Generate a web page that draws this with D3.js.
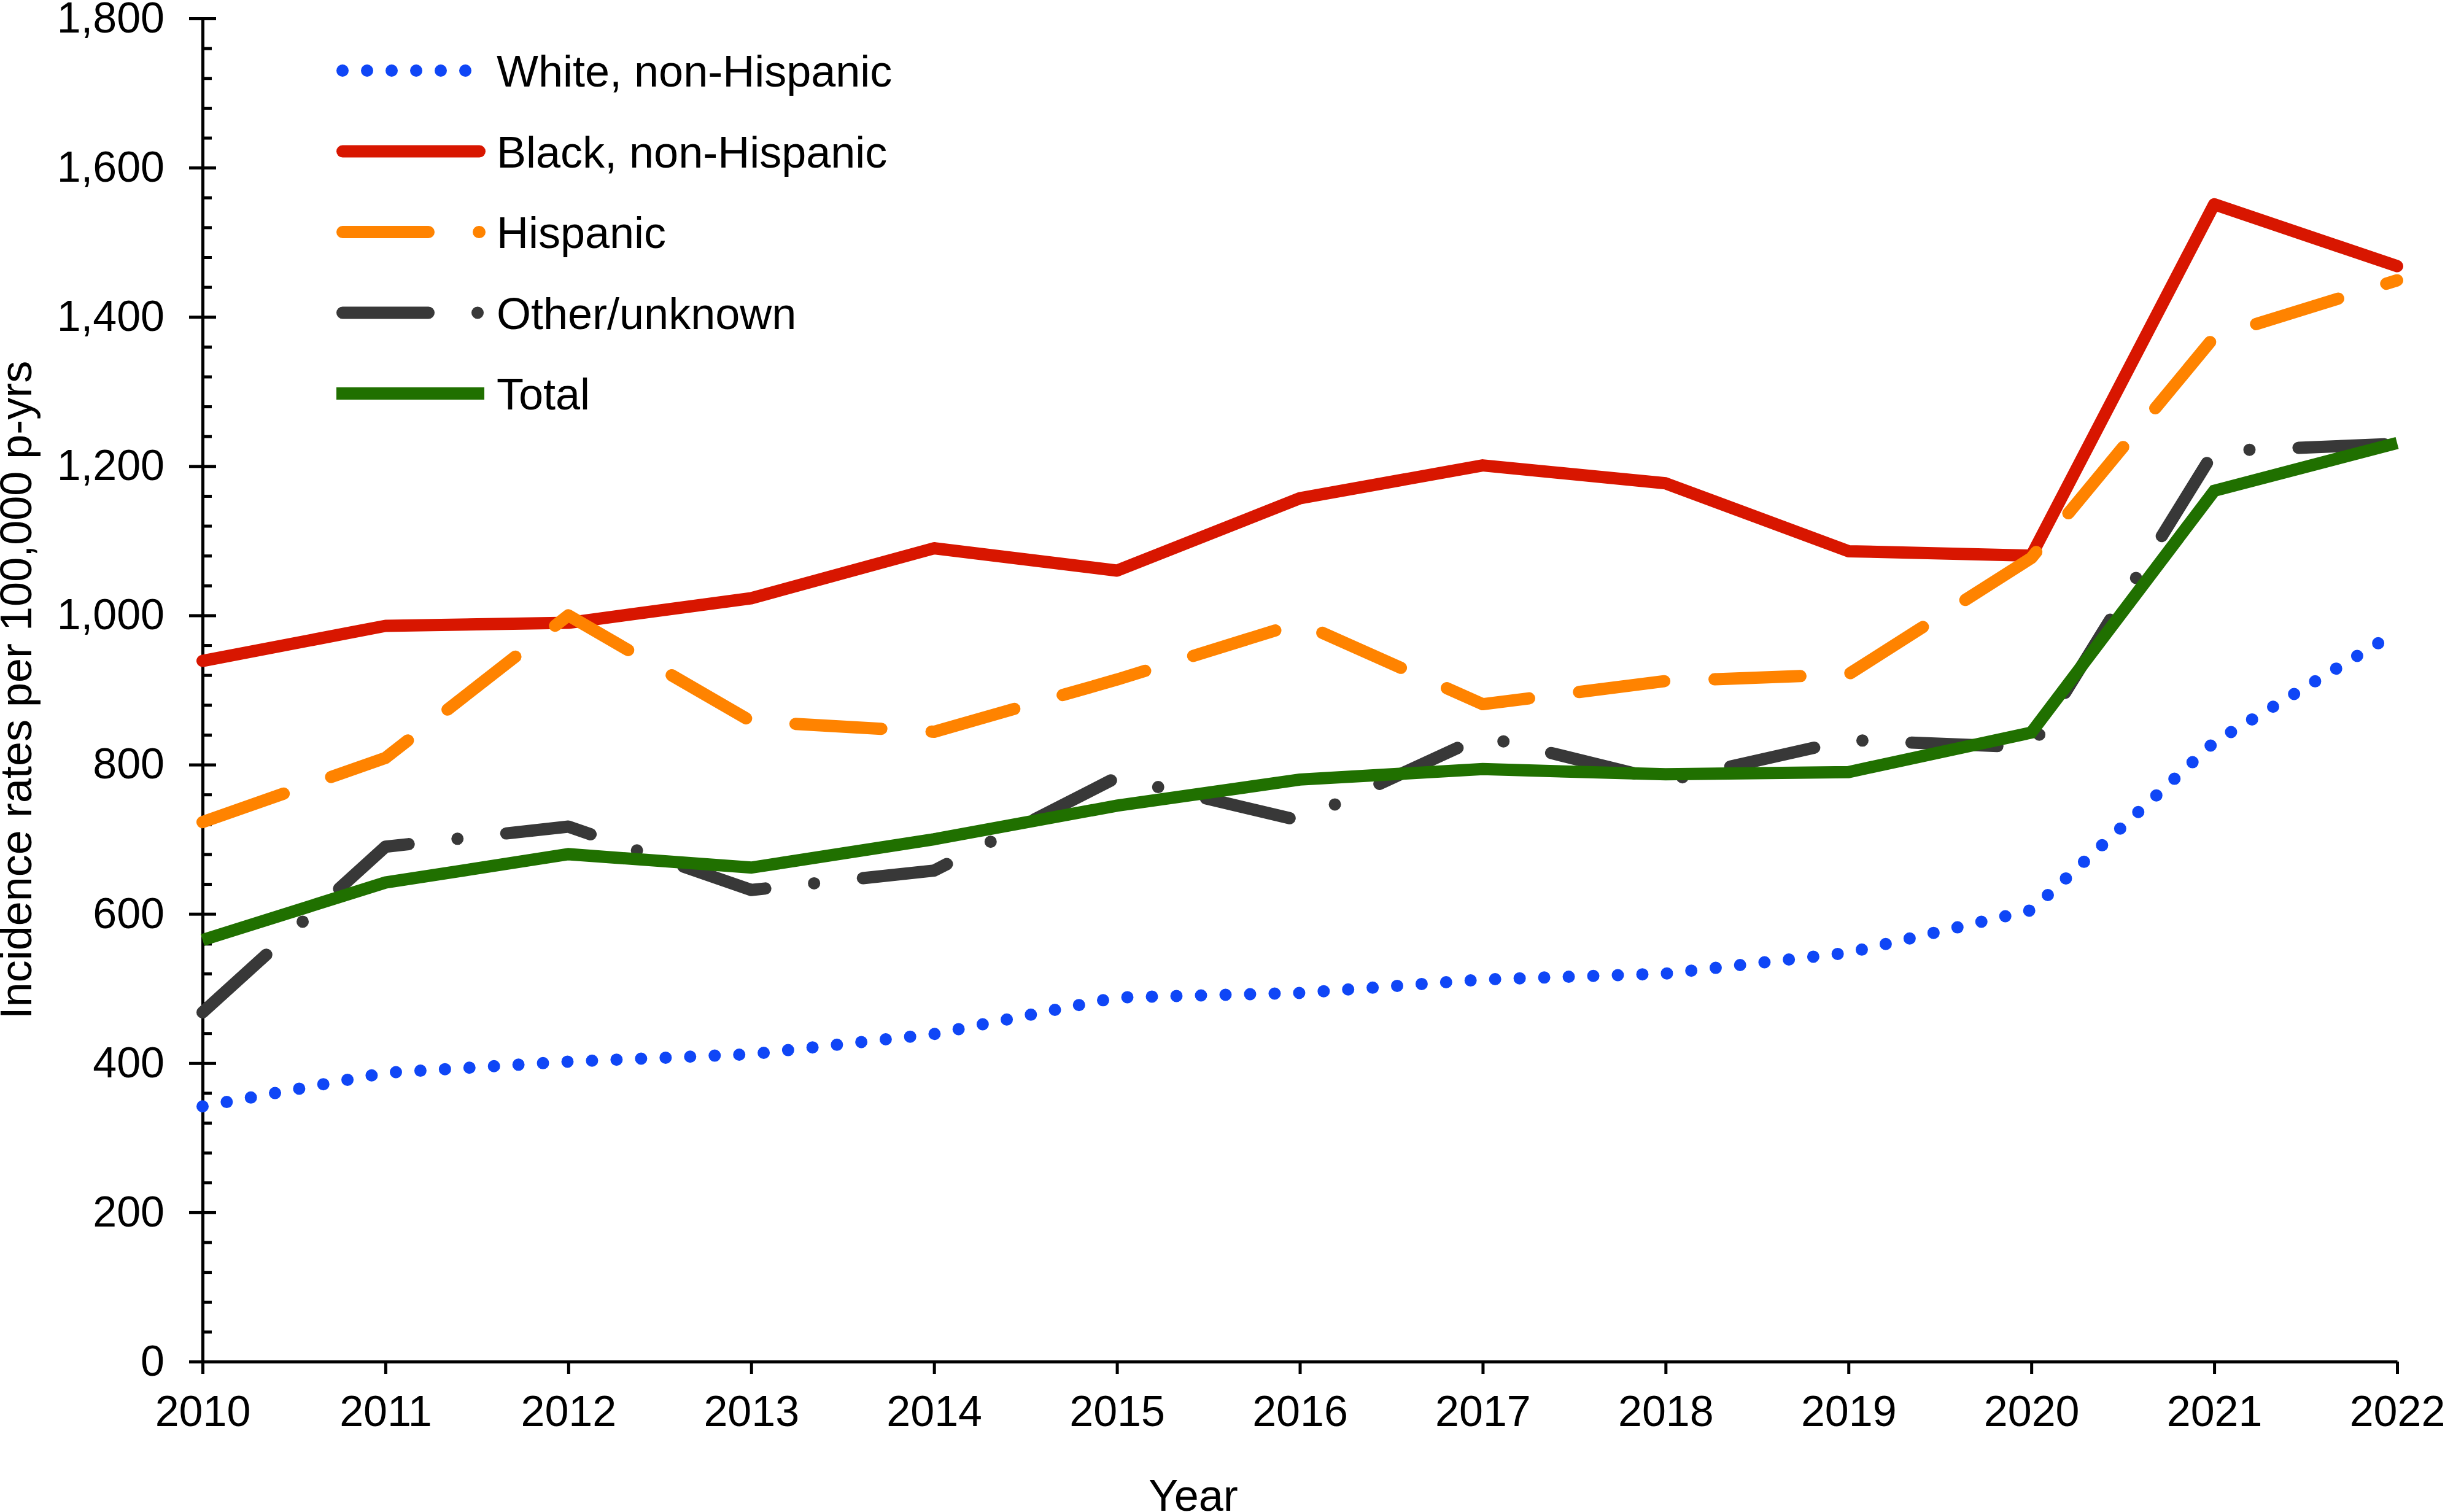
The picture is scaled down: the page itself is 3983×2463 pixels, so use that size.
<!DOCTYPE html>
<html>
<head>
<meta charset="utf-8">
<script src="https://cdn.jsdelivr.net/npm/d3@7"></script>
<style>
  body { margin: 0; background: #fff; }
  svg text { font-family: "Liberation Sans", Arial, Helvetica, sans-serif; fill: #000; }
</style>
</head>
<body>
<div id="chart-area"></div>
<script>
/* Data */
const years = [2010, 2011, 2012, 2013, 2014, 2015, 2016, 2017, 2018, 2019, 2020, 2021, 2022]
const white = [342, 387, 402, 412, 439, 488, 494, 512, 520, 548, 605, 830, 978]
const black = [939, 986, 990, 1023, 1090, 1060, 1157, 1201, 1177, 1086, 1080, 1551, 1468]
const hispanic = [723, 809, 1000, 858, 844, 914, 990, 881, 912, 921, 1077, 1373, 1449]
const other = [468, 690, 717, 632, 658, 783, 725, 838, 778, 833, 823, 1220, 1230]
const total = [565, 642, 680, 662, 700, 745, 780, 794, 787, 790, 843, 1167, 1231]
const seriesNames = ['White, non-Hispanic', 'Black, non-Hispanic', 'Hispanic', 'Other/unknown', 'Total']
const yTicks = [0, 200, 400, 600, 800, 1000, 1200, 1400, 1600, 1800]

const seriesValues = [white, black, hispanic, other, total]

// line looks, same order as seriesNames
const styles = [
  { color: '#0f46f6', dash: '0 40', cap: 'round' },
  { color: '#d81600', dash: null, cap: 'round' },
  { color: '#ff8300', dash: '140 82', cap: 'round' },
  { color: '#383838', dash: '140 80 0 80', cap: 'round' },
  { color: '#207000', dash: null, cap: 'butt' }
]

/* Canvas */
const CANVAS_WIDTH = 3983
const CANVAS_HEIGHT = 2463
const margin = { top: 30, right: 78, bottom: 245, left: 330 }
const width = CANVAS_WIDTH - margin.left - margin.right
const height = CANVAS_HEIGHT - margin.top - margin.bottom

const $canvas = d3.select('#chart-area')
  .append('svg')
  .attr('width', CANVAS_WIDTH)
  .attr('height', CANVAS_HEIGHT)

const $group = $canvas.append('g')
  .attr('transform', `translate(${margin.left}, ${margin.top})`)

/* Scales */
const scaleX = d3.scaleLinear().domain([2010, 2022]).range([0, width])
const scaleY = d3.scaleLinear().domain([0, 1800]).range([height, 0])

/* Axes */
const styleAxis = $g => {
  $g.selectAll('line, path').attr('stroke', '#000').attr('stroke-width', 5)
  $g.selectAll('text').attr('font-size', 70).attr('font-family', null)
}

const $xAxisGroup = $group.append('g')
  .attr('transform', `translate(0, ${height})`)
  .call(d3.axisBottom(scaleX)
    .tickValues(years)
    .tickFormat(d3.format('d'))
    .tickSizeInner(20)
    .tickSizeOuter(0)
    .tickPadding(35))
  .call(styleAxis)

const $yAxisGroup = $group.append('g')
  .call(d3.axisLeft(scaleY)
    .tickValues(yTicks)
    .tickFormat(d3.format(','))
    .tickSizeInner(22)
    .tickSizeOuter(0)
    .tickPadding(40))
  .call(styleAxis)

// major ticks cross the axis
$group.append('g')
  .call(d3.axisRight(scaleY).tickValues(yTicks).tickFormat('').tickSize(22))
  .call($g => $g.select('.domain').remove())
  .call(styleAxis)

// minor ticks inside
$group.append('g')
  .call(d3.axisRight(scaleY)
    .tickValues(d3.range(0, 1801, 40).filter(v => v % 200 !== 0))
    .tickFormat('')
    .tickSize(15))
  .call($g => $g.select('.domain').remove())
  .call(styleAxis)

/* Labels */
$group.append('text')
  .attr('x', 1944 - margin.left)
  .attr('y', CANVAS_HEIGHT - 2 - margin.top)
  .attr('font-size', 72)
  .attr('text-anchor', 'middle')
  .text('Year')

$group.append('text')
  .attr('transform', `translate(${51 - margin.left}, ${height / 2}) rotate(-90)`)
  .attr('font-size', 72)
  .attr('text-anchor', 'middle')
  .text('Incidence rates per 100,000 p-yrs')

/* Lines */
const line = d3.line()
  .x((d, i) => scaleX(years[i]))
  .y(d => scaleY(d))

seriesValues.forEach((values, i) => {
  const s = styles[i]
  $group.append('path')
    .datum(values)
    .attr('d', line)
    .attr('fill', 'none')
    .attr('stroke', s.color)
    .attr('stroke-width', 20)
    .attr('stroke-linecap', s.cap)
    .attr('stroke-linejoin', s.cap === 'butt' ? 'miter' : 'round')
    .attr('stroke-dasharray', s.dash)
})

/* Legend */
const $legend = $canvas.append('g')

seriesNames.forEach((name, i) => {
  const s = styles[i]
  const rowY = 115 + i * 131.5
  const butt = s.cap === 'butt'
  $legend.append('line')
    .attr('x1', butt ? 548 : 558)
    .attr('x2', butt ? 789 : 781)
    .attr('y1', rowY)
    .attr('y2', rowY)
    .attr('stroke', s.color)
    .attr('stroke-width', 20)
    .attr('stroke-linecap', s.cap)
    .attr('stroke-dasharray', s.dash)

  $legend.append('text')
    .attr('x', 809)
    .attr('y', rowY + 26)
    .attr('font-size', 72)
    .text(name)
})
</script>
</body>
</html>
